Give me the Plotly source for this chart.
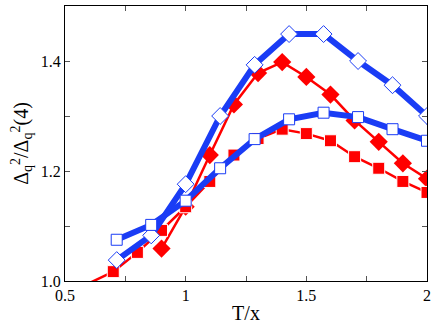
import plotly.graph_objs as go

# T/x values
x_blue = [5/7, 6/7, 1.0, 8/7, 9/7, 10/7, 11/7, 12/7, 13/7, 2.0]
x_red = [0.6, 0.7, 0.8, 0.9, 1.0, 1.1, 1.2, 1.3, 1.4, 1.5, 1.6, 1.7, 1.8, 1.9, 2.0]
x_red_d = [0.9, 1.0, 1.1, 1.2, 1.3, 1.4, 1.5, 1.6, 1.7, 1.8, 1.9, 2.0]

blue_diamond = [1.038, 1.083, 1.176, 1.300, 1.393, 1.449, 1.449, 1.400, 1.356, 1.300]
blue_square = [1.075, 1.102, 1.146, 1.205, 1.258, 1.294, 1.306, 1.298, 1.276, 1.255]
red_diamond = [1.059, 1.135, 1.229, 1.321, 1.378, 1.398, 1.371, 1.339, 1.292, 1.253, 1.214, 1.186]
red_square = [0.996, 1.017, 1.052, 1.092, 1.135, 1.181, 1.229, 1.259, 1.276, 1.268,
              1.255, 1.226, 1.205, 1.181, 1.161]

RED = '#ff0000'
BLUE = '#1a3cf5'
SERIF = 'Liberation Serif'

# the out-of-range point at T/x=0.6 shows only its line
red_sq_sizes = [0] + [12] * (len(red_square) - 1)

data = [
    go.Scatter(x=x_red_d, y=red_diamond, mode='lines+markers',
               line=dict(color=RED, width=2.5),
               marker=dict(symbol='diamond', size=14, color=RED)),
    go.Scatter(x=x_red, y=red_square, mode='lines+markers',
               line=dict(color=RED, width=2.5),
               marker=dict(symbol='square', size=red_sq_sizes, color=RED, opacity=1)),
    go.Scatter(x=x_blue, y=blue_diamond, mode='lines+markers',
               line=dict(color=BLUE, width=6),
               marker=dict(symbol='diamond', size=13, color='white',
                           line=dict(color=BLUE, width=1))),
    go.Scatter(x=x_blue, y=blue_square, mode='lines+markers',
               line=dict(color=BLUE, width=6),
               marker=dict(symbol='square', size=11, color='white',
                           line=dict(color=BLUE, width=1))),
]

axis_common = dict(
    showgrid=False, zeroline=False, showline=True, linecolor='black',
    linewidth=1, mirror='allticks', ticks='inside', ticklen=5,
    tickcolor='#555', tickfont=dict(family=SERIF, size=16, color='black'),
)

layout = go.Layout(
    width=436, height=325,
    margin=dict(l=65, r=8, t=5, b=43),
    paper_bgcolor='white', plot_bgcolor='white',
    showlegend=False,
    font=dict(family=SERIF, color='black'),
    xaxis=dict(
        range=[0.5, 2.0], tick0=0.5, dtick=0.5,
        minor=dict(ticks='inside', dtick=0.25, ticklen=5, tickcolor='#555'),
        title=dict(text='T/x', font=dict(family=SERIF, size=20), standoff=2),
        **axis_common
    ),
    yaxis=dict(
        range=[1.0, 1.5], tick0=1.0, dtick=0.2, tickformat='.1f',
        minor=dict(ticks='inside', dtick=0.1, ticklen=5, tickcolor='#555'),
        title=dict(text='Δ<sub>q</sub><sup>2</sup>/Δ<sub>q</sub><sup>2</sup>(4)',
                   font=dict(family=SERIF, size=20), standoff=6),
        **axis_common
    ),
)

fig = go.Figure(data=data, layout=layout)
fig.write_html('out.html', config={'displayModeBar': False},
               post_script="document.body.style.margin='0';document.body.style.overflow='hidden';")
